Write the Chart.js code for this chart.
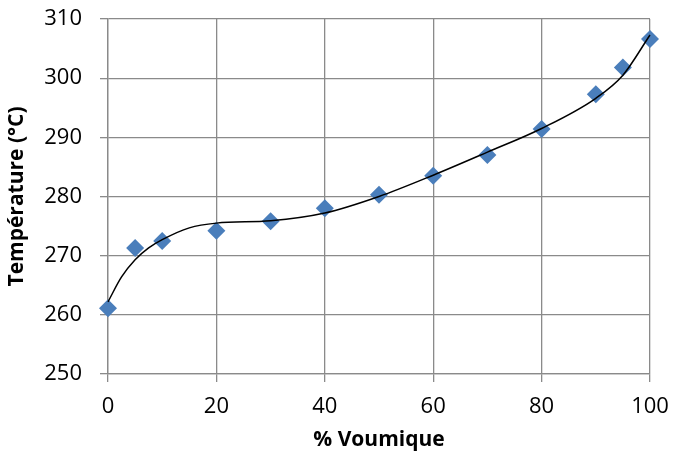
<!DOCTYPE html>
<html>
<head>
<meta charset="utf-8">
<script src="https://cdn.jsdelivr.net/npm/chart.js@4"></script>
<style>
  html, body { margin: 0; padding: 0; background: #fff; }
  #wrap { width: 673px; height: 468px; }
</style>
</head>
<body>
<div id="wrap"><canvas id="c" width="673" height="468"></canvas></div>
<script>
// measured points
var pctVol = [0, 5, 10, 20, 30, 40, 50, 60, 70, 80, 90, 95, 100]
var temps = [261.1, 271.3, 272.5, 274.2, 275.8, 278.0, 280.3, 283.5, 287.0, 291.4, 297.3, 301.8, 306.6]

// trend curve
var trendX = [0, 2.5, 5, 7.5, 10, 15, 20, 30, 40, 50, 60, 70, 80, 90, 95, 100]
var trendY = [262.2, 266.4, 269.3, 271.3, 272.7, 274.7, 275.5, 275.9, 277.2, 280.0, 283.6, 287.5, 291.5, 296.6, 300.5, 307.3]

var xTicks = [0, 20, 40, 60, 80, 100]
var yTicks = [250, 260, 270, 280, 290, 300, 310]

var gridColor = '#8a8a8a'
var font = 'Open Sans'

var toXY = (xs, ys) => xs.map((x, i) => ({ x: x, y: ys[i] }))

new Chart(document.getElementById('c'), {
  type: 'scatter',
  data: {
    datasets: [
      {
        label: 'Température',
        data: toXY(pctVol, temps),
        pointStyle: 'rectRot',
        pointRadius: 9,
        pointHoverRadius: 9,
        backgroundColor: '#4A7EBB',
        borderWidth: 0,
        clip: false,
        order: 2
      },
      {
        label: 'Tendance',
        type: 'line',
        data: toXY(trendX, trendY),
        borderColor: '#000',
        borderWidth: 1.5,
        pointRadius: 0,
        fill: false,
        clip: false,
        cubicInterpolationMode: 'monotone',
        order: 1
      }
    ]
  },
  options: {
    responsive: false,
    animation: false,
    layout: { padding: { left: 0, right: 23, top: 19, bottom: 0 } },
    plugins: { legend: { display: false }, tooltip: { enabled: false } },
    scales: {
      x: {
        type: 'linear',
        min: 0,
        max: 100,
        afterBuildTicks: (s) => { s.ticks = xTicks.map(v => ({ value: v })) },
        afterFit: (s) => { s.height = 94; s.paddingLeft = 0; s.paddingRight = 0 },
        grid: { color: gridColor, lineWidth: 1.3, tickLength: 8 },
        border: { color: gridColor, width: 1.3 },
        ticks: { color: '#000', padding: 12, font: { family: font, size: 22 } },
        title: {
          display: true,
          text: '% Voumique',
          color: '#000',
          padding: { top: 0, bottom: 15 },
          font: { family: font, size: 21, weight: 'bold' }
        }
      },
      y: {
        min: 250,
        max: 310,
        afterBuildTicks: (s) => { s.ticks = yTicks.map(v => ({ value: v })) },
        afterFit: (s) => { s.width = 108; s.paddingTop = 0; s.paddingBottom = 0 },
        grid: { color: gridColor, lineWidth: 1.3, tickLength: 8 },
        border: { color: gridColor, width: 1.3 },
        ticks: { color: '#000', padding: 18, font: { family: font, size: 22 } },
        title: {
          display: true,
          text: 'Température (°C)',
          color: '#000',
          padding: { top: 4, bottom: 0 },
          font: { family: font, size: 21, weight: 'bold' }
        }
      }
    }
  }
})
</script>
</body>
</html>
